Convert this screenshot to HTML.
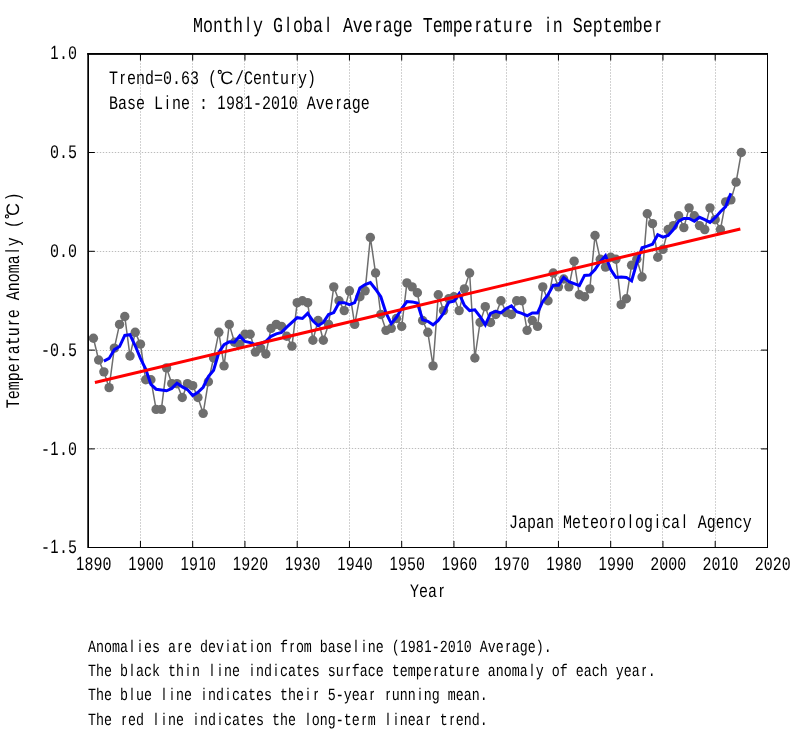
<!DOCTYPE html>
<html><head><meta charset="utf-8"><title>Monthly Global Average Temperature in September</title>
<style>html,body{margin:0;padding:0;background:#fff}svg{display:block;will-change:transform}text{font-family:"Liberation Mono",monospace;fill:#000;white-space:pre}</style></head><body>
<svg width="800" height="750" viewBox="0 0 800 750">
<rect width="800" height="750" fill="#fff"/>
<g stroke="#d2d2d2" stroke-width="1" stroke-dasharray="2 1" fill="none" shape-rendering="crispEdges">
<path d="M140.5 548V54"/>
<path d="M192.5 548V54"/>
<path d="M244.5 548V54"/>
<path d="M297.5 548V54"/>
<path d="M349.5 548V54"/>
<path d="M401.5 548V54"/>
<path d="M453.5 548V54"/>
<path d="M506.5 548V54"/>
<path d="M558.5 548V54"/>
<path d="M610.5 548V54"/>
<path d="M662.5 548V54"/>
<path d="M715.5 548V54"/>
</g>
<g stroke="#bcbcbc" stroke-width="1" stroke-dasharray="1.4 1.6" fill="none">
<path d="M87.8 152.5H767"/>
<path d="M87.8 251.5H767"/>
<path d="M87.8 350.5H767"/>
<path d="M87.8 448.5H767"/>
</g>
<g stroke="#000" stroke-width="1" fill="none">
<path d="M140.45 547.5V541M140.45 54V60.5"/>
<path d="M192.7 547.5V541M192.7 54V60.5"/>
<path d="M244.95 547.5V541M244.95 54V60.5"/>
<path d="M297.2 547.5V541M297.2 54V60.5"/>
<path d="M349.45 547.5V541M349.45 54V60.5"/>
<path d="M401.7 547.5V541M401.7 54V60.5"/>
<path d="M453.95 547.5V541M453.95 54V60.5"/>
<path d="M506.2 547.5V541M506.2 54V60.5"/>
<path d="M558.45 547.5V541M558.45 54V60.5"/>
<path d="M610.7 547.5V541M610.7 54V60.5"/>
<path d="M662.95 547.5V541M662.95 54V60.5"/>
<path d="M715.2 547.5V541M715.2 54V60.5"/>
<path d="M88.5 152.5H94.8M767.5 152.5H761"/>
<path d="M88.5 251.3H94.8M767.5 251.3H761"/>
<path d="M88.5 350.1H94.8M767.5 350.1H761"/>
<path d="M88.5 448.9H94.8M767.5 448.9H761"/>
</g>
<polyline points="93.42,338.24 98.65,359.98 103.88,371.84 109.10,387.64 114.33,348.12 119.55,324.41 124.78,316.51 130.00,356.03 135.22,332.32 140.45,344.17 145.68,379.74 150.90,379.74 156.12,409.38 161.35,409.38 166.57,367.88 171.80,383.69 177.02,383.69 182.25,397.52 187.47,383.69 192.70,385.67 197.93,397.52 203.15,413.33 208.38,381.72 213.60,358.00 218.82,332.32 224.05,365.91 229.27,324.41 234.50,342.20 239.72,344.17 244.95,334.29 250.18,334.29 255.40,352.08 260.62,348.12 265.85,354.05 271.07,328.36 276.30,324.41 281.52,326.39 286.75,336.27 291.97,346.15 297.20,302.68 302.43,300.70 307.65,302.68 312.88,340.22 318.10,320.46 323.32,340.22 328.55,324.41 333.77,286.87 339.00,300.70 344.22,310.58 349.45,290.82 354.67,324.41 359.90,296.75 365.12,290.82 370.35,237.47 375.57,273.04 380.80,314.53 386.02,330.34 391.25,328.36 396.47,318.48 401.70,326.39 406.92,282.92 412.15,286.87 417.37,292.80 422.60,320.46 427.82,332.32 433.05,365.91 438.27,294.77 443.50,310.58 448.72,298.72 453.95,296.75 459.17,310.58 464.40,288.84 469.62,273.04 474.85,358.00 480.07,322.44 485.30,306.63 490.52,322.44 495.75,314.53 500.97,300.70 506.20,312.56 511.42,314.53 516.65,300.70 521.88,300.70 527.10,330.34 532.32,320.46 537.55,326.39 542.77,286.87 548.00,300.70 553.23,273.04 558.45,286.87 563.67,278.96 568.90,286.87 574.12,261.18 579.35,294.77 584.57,296.75 589.80,288.84 595.02,235.49 600.25,259.20 605.48,267.11 610.70,257.23 615.92,259.20 621.15,304.65 626.38,298.72 631.60,265.13 636.83,259.20 642.05,276.99 647.27,213.76 652.50,223.64 657.73,257.23 662.95,249.32 668.17,229.56 673.40,225.61 678.62,215.73 683.85,227.59 689.08,207.83 694.30,215.73 699.52,225.61 704.75,229.56 709.98,207.83 715.20,219.68 720.42,229.56 725.65,201.90 730.88,199.92 736.10,182.14 741.33,152.50" fill="none" stroke="#6e6e6e" stroke-width="1.5" stroke-linejoin="round"/>
<g fill="#6e6e6e">
<circle cx="93.42" cy="338.24" r="4.7"/>
<circle cx="98.65" cy="359.98" r="4.7"/>
<circle cx="103.88" cy="371.84" r="4.7"/>
<circle cx="109.10" cy="387.64" r="4.7"/>
<circle cx="114.33" cy="348.12" r="4.7"/>
<circle cx="119.55" cy="324.41" r="4.7"/>
<circle cx="124.78" cy="316.51" r="4.7"/>
<circle cx="130.00" cy="356.03" r="4.7"/>
<circle cx="135.22" cy="332.32" r="4.7"/>
<circle cx="140.45" cy="344.17" r="4.7"/>
<circle cx="145.68" cy="379.74" r="4.7"/>
<circle cx="150.90" cy="379.74" r="4.7"/>
<circle cx="156.12" cy="409.38" r="4.7"/>
<circle cx="161.35" cy="409.38" r="4.7"/>
<circle cx="166.57" cy="367.88" r="4.7"/>
<circle cx="171.80" cy="383.69" r="4.7"/>
<circle cx="177.02" cy="383.69" r="4.7"/>
<circle cx="182.25" cy="397.52" r="4.7"/>
<circle cx="187.47" cy="383.69" r="4.7"/>
<circle cx="192.70" cy="385.67" r="4.7"/>
<circle cx="197.93" cy="397.52" r="4.7"/>
<circle cx="203.15" cy="413.33" r="4.7"/>
<circle cx="208.38" cy="381.72" r="4.7"/>
<circle cx="213.60" cy="358.00" r="4.7"/>
<circle cx="218.82" cy="332.32" r="4.7"/>
<circle cx="224.05" cy="365.91" r="4.7"/>
<circle cx="229.27" cy="324.41" r="4.7"/>
<circle cx="234.50" cy="342.20" r="4.7"/>
<circle cx="239.72" cy="344.17" r="4.7"/>
<circle cx="244.95" cy="334.29" r="4.7"/>
<circle cx="250.18" cy="334.29" r="4.7"/>
<circle cx="255.40" cy="352.08" r="4.7"/>
<circle cx="260.62" cy="348.12" r="4.7"/>
<circle cx="265.85" cy="354.05" r="4.7"/>
<circle cx="271.07" cy="328.36" r="4.7"/>
<circle cx="276.30" cy="324.41" r="4.7"/>
<circle cx="281.52" cy="326.39" r="4.7"/>
<circle cx="286.75" cy="336.27" r="4.7"/>
<circle cx="291.97" cy="346.15" r="4.7"/>
<circle cx="297.20" cy="302.68" r="4.7"/>
<circle cx="302.43" cy="300.70" r="4.7"/>
<circle cx="307.65" cy="302.68" r="4.7"/>
<circle cx="312.88" cy="340.22" r="4.7"/>
<circle cx="318.10" cy="320.46" r="4.7"/>
<circle cx="323.32" cy="340.22" r="4.7"/>
<circle cx="328.55" cy="324.41" r="4.7"/>
<circle cx="333.77" cy="286.87" r="4.7"/>
<circle cx="339.00" cy="300.70" r="4.7"/>
<circle cx="344.22" cy="310.58" r="4.7"/>
<circle cx="349.45" cy="290.82" r="4.7"/>
<circle cx="354.67" cy="324.41" r="4.7"/>
<circle cx="359.90" cy="296.75" r="4.7"/>
<circle cx="365.12" cy="290.82" r="4.7"/>
<circle cx="370.35" cy="237.47" r="4.7"/>
<circle cx="375.57" cy="273.04" r="4.7"/>
<circle cx="380.80" cy="314.53" r="4.7"/>
<circle cx="386.02" cy="330.34" r="4.7"/>
<circle cx="391.25" cy="328.36" r="4.7"/>
<circle cx="396.47" cy="318.48" r="4.7"/>
<circle cx="401.70" cy="326.39" r="4.7"/>
<circle cx="406.92" cy="282.92" r="4.7"/>
<circle cx="412.15" cy="286.87" r="4.7"/>
<circle cx="417.37" cy="292.80" r="4.7"/>
<circle cx="422.60" cy="320.46" r="4.7"/>
<circle cx="427.82" cy="332.32" r="4.7"/>
<circle cx="433.05" cy="365.91" r="4.7"/>
<circle cx="438.27" cy="294.77" r="4.7"/>
<circle cx="443.50" cy="310.58" r="4.7"/>
<circle cx="448.72" cy="298.72" r="4.7"/>
<circle cx="453.95" cy="296.75" r="4.7"/>
<circle cx="459.17" cy="310.58" r="4.7"/>
<circle cx="464.40" cy="288.84" r="4.7"/>
<circle cx="469.62" cy="273.04" r="4.7"/>
<circle cx="474.85" cy="358.00" r="4.7"/>
<circle cx="480.07" cy="322.44" r="4.7"/>
<circle cx="485.30" cy="306.63" r="4.7"/>
<circle cx="490.52" cy="322.44" r="4.7"/>
<circle cx="495.75" cy="314.53" r="4.7"/>
<circle cx="500.97" cy="300.70" r="4.7"/>
<circle cx="506.20" cy="312.56" r="4.7"/>
<circle cx="511.42" cy="314.53" r="4.7"/>
<circle cx="516.65" cy="300.70" r="4.7"/>
<circle cx="521.88" cy="300.70" r="4.7"/>
<circle cx="527.10" cy="330.34" r="4.7"/>
<circle cx="532.32" cy="320.46" r="4.7"/>
<circle cx="537.55" cy="326.39" r="4.7"/>
<circle cx="542.77" cy="286.87" r="4.7"/>
<circle cx="548.00" cy="300.70" r="4.7"/>
<circle cx="553.23" cy="273.04" r="4.7"/>
<circle cx="558.45" cy="286.87" r="4.7"/>
<circle cx="563.67" cy="278.96" r="4.7"/>
<circle cx="568.90" cy="286.87" r="4.7"/>
<circle cx="574.12" cy="261.18" r="4.7"/>
<circle cx="579.35" cy="294.77" r="4.7"/>
<circle cx="584.57" cy="296.75" r="4.7"/>
<circle cx="589.80" cy="288.84" r="4.7"/>
<circle cx="595.02" cy="235.49" r="4.7"/>
<circle cx="600.25" cy="259.20" r="4.7"/>
<circle cx="605.48" cy="267.11" r="4.7"/>
<circle cx="610.70" cy="257.23" r="4.7"/>
<circle cx="615.92" cy="259.20" r="4.7"/>
<circle cx="621.15" cy="304.65" r="4.7"/>
<circle cx="626.38" cy="298.72" r="4.7"/>
<circle cx="631.60" cy="265.13" r="4.7"/>
<circle cx="636.83" cy="259.20" r="4.7"/>
<circle cx="642.05" cy="276.99" r="4.7"/>
<circle cx="647.27" cy="213.76" r="4.7"/>
<circle cx="652.50" cy="223.64" r="4.7"/>
<circle cx="657.73" cy="257.23" r="4.7"/>
<circle cx="662.95" cy="249.32" r="4.7"/>
<circle cx="668.17" cy="229.56" r="4.7"/>
<circle cx="673.40" cy="225.61" r="4.7"/>
<circle cx="678.62" cy="215.73" r="4.7"/>
<circle cx="683.85" cy="227.59" r="4.7"/>
<circle cx="689.08" cy="207.83" r="4.7"/>
<circle cx="694.30" cy="215.73" r="4.7"/>
<circle cx="699.52" cy="225.61" r="4.7"/>
<circle cx="704.75" cy="229.56" r="4.7"/>
<circle cx="709.98" cy="207.83" r="4.7"/>
<circle cx="715.20" cy="219.68" r="4.7"/>
<circle cx="720.42" cy="229.56" r="4.7"/>
<circle cx="725.65" cy="201.90" r="4.7"/>
<circle cx="730.88" cy="199.92" r="4.7"/>
<circle cx="736.10" cy="182.14" r="4.7"/>
<circle cx="741.33" cy="152.50" r="4.7"/>
</g>
<polyline points="103.88,361.17 109.10,358.40 114.33,349.70 119.55,346.54 124.78,335.48 130.00,334.69 135.22,345.75 140.45,358.40 145.68,369.07 150.90,384.48 156.12,389.22 161.35,390.02 166.57,390.81 171.80,388.43 177.02,383.30 182.25,386.85 187.47,389.62 192.70,395.55 197.93,392.39 203.15,387.25 208.38,376.58 213.60,370.26 218.82,352.47 224.05,344.57 229.27,341.80 234.50,342.20 239.72,335.87 244.95,341.41 250.18,342.59 255.40,344.57 260.62,343.38 265.85,341.41 271.07,336.27 276.30,333.90 281.52,332.32 286.75,327.18 291.97,322.44 297.20,317.69 302.43,318.48 307.65,313.35 312.88,320.86 318.10,325.60 323.32,322.44 328.55,314.53 333.77,312.56 339.00,302.68 344.22,302.68 349.45,304.65 354.67,302.68 359.90,288.05 365.12,284.50 370.35,282.52 375.57,289.24 380.80,296.75 386.02,312.95 391.25,323.62 396.47,317.30 401.70,308.60 406.92,301.49 412.15,301.89 417.37,303.07 422.60,319.67 427.82,321.25 433.05,324.81 438.27,320.46 443.50,313.35 448.72,302.28 453.95,301.10 459.17,293.59 464.40,305.44 469.62,310.58 474.85,309.79 480.07,316.51 485.30,324.81 490.52,313.35 495.75,311.37 500.97,312.95 506.20,308.60 511.42,305.84 516.65,311.77 521.88,313.35 527.10,315.72 532.32,312.95 537.55,312.95 542.77,301.49 548.00,294.77 553.23,285.29 558.45,285.29 563.67,277.38 568.90,281.73 574.12,283.71 579.35,285.68 584.57,275.41 589.80,275.01 595.02,269.48 600.25,261.58 605.48,255.65 610.70,269.48 615.92,277.38 621.15,276.99 626.38,277.38 631.60,280.94 636.83,262.76 642.05,247.74 647.27,246.16 652.50,244.19 657.73,234.70 662.95,237.07 668.17,235.49 673.40,229.56 678.62,221.26 683.85,218.50 689.08,218.50 694.30,221.26 699.52,217.31 704.75,219.68 709.98,222.45 715.20,217.71 720.42,211.78 725.65,206.64 730.88,193.21" fill="none" stroke="#0000ff" stroke-width="3" stroke-linejoin="miter" stroke-linecap="butt"/>
<line x1="94.92" y1="382.51" x2="740.33" y2="228.97" stroke="#ff0000" stroke-width="3"/>
<g fill="#000">
<rect x="87.3" y="53" width="680.7" height="1.9"/>
<rect x="87.3" y="53" width="1.7" height="495"/>
<rect x="767" y="53" width="1" height="495" shape-rendering="crispEdges"/>
<rect x="88" y="547" width="680" height="1" shape-rendering="crispEdges"/>
</g>
<g transform="translate(193,31.9) skewX(0.1)">
<g transform="translate(0.00,0) scale(0.7843,1)" font-size="21.250">
<text xml:space="preserve">Month y G oba  Ave age Tempe atu e  n Septembe </text>
<text text-anchor="middle" style="font-family:'Liberation Sans',sans-serif" x="70.12 121.12 172.12 235.88 363.38 414.38 452.62 592.88">lllrrrir</text>
</g>
</g>
<g transform="translate(109,83.8) skewX(0.1)">
<g transform="translate(0.00,0) scale(0.7843,1)" font-size="19.125">
<text xml:space="preserve">T end=0.63 (</text>
<text text-anchor="middle" style="font-family:'Liberation Sans',sans-serif" x="17.21">r</text>
</g>
<circle cx="110.80" cy="-11.85" r="1.55" fill="none" stroke="#000" stroke-width="1.10"/>
<text x="111.30" y="0" style="font-family:'Liberation Sans',sans-serif" font-size="18.08">C</text>
<g transform="translate(126.00,0) scale(0.7843,1)" font-size="19.125">
<text xml:space="preserve">/Centu y)</text>
<text text-anchor="middle" style="font-family:'Liberation Sans',sans-serif" x="74.59">r</text>
</g>
</g>
<g transform="translate(109,108.5) skewX(0.1)">
<g transform="translate(0.00,0) scale(0.7843,1)" font-size="19.125">
<text xml:space="preserve">Base L ne :  98 -20 0 Ave age</text>
<text text-anchor="middle" style="font-family:'Liberation Sans',sans-serif" x="74.59 143.44 177.86 223.76 292.61">i111r</text>
</g>
</g>
<g transform="translate(509,527.5) skewX(0.1)">
<g transform="translate(0.00,0) scale(0.7843,1)" font-size="19.125">
<text xml:space="preserve">Japan Meteo o og ca  Agency</text>
<text text-anchor="middle" style="font-family:'Liberation Sans',sans-serif" x="131.96 154.91 189.34 223.76">rlil</text>
</g>
</g>
<g transform="translate(77,59.4) skewX(0.1)">
<g transform="translate(-27.00,0) scale(0.7843,1)" font-size="19.125">
<text xml:space="preserve"> .0</text>
<text text-anchor="middle" style="font-family:'Liberation Sans',sans-serif" x="5.74">1</text>
</g>
</g>
<g transform="translate(77,158.2) skewX(0.1)">
<g transform="translate(-27.00,0) scale(0.7843,1)" font-size="19.125">
<text xml:space="preserve">0.5</text>
</g>
</g>
<g transform="translate(77,257.0) skewX(0.1)">
<g transform="translate(-27.00,0) scale(0.7843,1)" font-size="19.125">
<text xml:space="preserve">0.0</text>
</g>
</g>
<g transform="translate(77,355.8) skewX(0.1)">
<g transform="translate(-36.00,0) scale(0.7843,1)" font-size="19.125">
<text xml:space="preserve">-0.5</text>
</g>
</g>
<g transform="translate(77,454.6) skewX(0.1)">
<g transform="translate(-36.00,0) scale(0.7843,1)" font-size="19.125">
<text xml:space="preserve">- .0</text>
<text text-anchor="middle" style="font-family:'Liberation Sans',sans-serif" x="17.21">1</text>
</g>
</g>
<g transform="translate(77,553.4) skewX(0.1)">
<g transform="translate(-36.00,0) scale(0.7843,1)" font-size="19.125">
<text xml:space="preserve">- .5</text>
<text text-anchor="middle" style="font-family:'Liberation Sans',sans-serif" x="17.21">1</text>
</g>
</g>
<g transform="translate(75.6,570.1) skewX(0.1)">
<g transform="translate(0.00,0) scale(0.7843,1)" font-size="19.125">
<text xml:space="preserve"> 890</text>
<text text-anchor="middle" style="font-family:'Liberation Sans',sans-serif" x="5.74">1</text>
</g>
</g>
<g transform="translate(127.85,570.1) skewX(0.1)">
<g transform="translate(0.00,0) scale(0.7843,1)" font-size="19.125">
<text xml:space="preserve"> 900</text>
<text text-anchor="middle" style="font-family:'Liberation Sans',sans-serif" x="5.74">1</text>
</g>
</g>
<g transform="translate(180.1,570.1) skewX(0.1)">
<g transform="translate(0.00,0) scale(0.7843,1)" font-size="19.125">
<text xml:space="preserve"> 9 0</text>
<text text-anchor="middle" style="font-family:'Liberation Sans',sans-serif" x="5.74 28.69">11</text>
</g>
</g>
<g transform="translate(232.35,570.1) skewX(0.1)">
<g transform="translate(0.00,0) scale(0.7843,1)" font-size="19.125">
<text xml:space="preserve"> 920</text>
<text text-anchor="middle" style="font-family:'Liberation Sans',sans-serif" x="5.74">1</text>
</g>
</g>
<g transform="translate(284.6,570.1) skewX(0.1)">
<g transform="translate(0.00,0) scale(0.7843,1)" font-size="19.125">
<text xml:space="preserve"> 930</text>
<text text-anchor="middle" style="font-family:'Liberation Sans',sans-serif" x="5.74">1</text>
</g>
</g>
<g transform="translate(336.85,570.1) skewX(0.1)">
<g transform="translate(0.00,0) scale(0.7843,1)" font-size="19.125">
<text xml:space="preserve"> 940</text>
<text text-anchor="middle" style="font-family:'Liberation Sans',sans-serif" x="5.74">1</text>
</g>
</g>
<g transform="translate(389.1,570.1) skewX(0.1)">
<g transform="translate(0.00,0) scale(0.7843,1)" font-size="19.125">
<text xml:space="preserve"> 950</text>
<text text-anchor="middle" style="font-family:'Liberation Sans',sans-serif" x="5.74">1</text>
</g>
</g>
<g transform="translate(441.35,570.1) skewX(0.1)">
<g transform="translate(0.00,0) scale(0.7843,1)" font-size="19.125">
<text xml:space="preserve"> 960</text>
<text text-anchor="middle" style="font-family:'Liberation Sans',sans-serif" x="5.74">1</text>
</g>
</g>
<g transform="translate(493.6,570.1) skewX(0.1)">
<g transform="translate(0.00,0) scale(0.7843,1)" font-size="19.125">
<text xml:space="preserve"> 970</text>
<text text-anchor="middle" style="font-family:'Liberation Sans',sans-serif" x="5.74">1</text>
</g>
</g>
<g transform="translate(545.85,570.1) skewX(0.1)">
<g transform="translate(0.00,0) scale(0.7843,1)" font-size="19.125">
<text xml:space="preserve"> 980</text>
<text text-anchor="middle" style="font-family:'Liberation Sans',sans-serif" x="5.74">1</text>
</g>
</g>
<g transform="translate(598.1,570.1) skewX(0.1)">
<g transform="translate(0.00,0) scale(0.7843,1)" font-size="19.125">
<text xml:space="preserve"> 990</text>
<text text-anchor="middle" style="font-family:'Liberation Sans',sans-serif" x="5.74">1</text>
</g>
</g>
<g transform="translate(650.35,570.1) skewX(0.1)">
<g transform="translate(0.00,0) scale(0.7843,1)" font-size="19.125">
<text xml:space="preserve">2000</text>
</g>
</g>
<g transform="translate(702.6,570.1) skewX(0.1)">
<g transform="translate(0.00,0) scale(0.7843,1)" font-size="19.125">
<text xml:space="preserve">20 0</text>
<text text-anchor="middle" style="font-family:'Liberation Sans',sans-serif" x="28.69">1</text>
</g>
</g>
<g transform="translate(754.85,570.1) skewX(0.1)">
<g transform="translate(0.00,0) scale(0.7843,1)" font-size="19.125">
<text xml:space="preserve">2020</text>
</g>
</g>
<g transform="translate(410,597.1) skewX(0.1)">
<g transform="translate(0.00,0) scale(0.7843,1)" font-size="19.125">
<text xml:space="preserve">Yea </text>
<text text-anchor="middle" style="font-family:'Liberation Sans',sans-serif" x="40.16">r</text>
</g>
</g>
<g transform="translate(18.8,408.2) rotate(-90) skewX(0.1)">
<g transform="translate(0.00,0) scale(0.7843,1)" font-size="19.125">
<text xml:space="preserve">Tempe atu e Anoma y (</text>
<text text-anchor="middle" style="font-family:'Liberation Sans',sans-serif" x="63.11 109.01 200.81">rrl</text>
</g>
<circle cx="191.80" cy="-11.85" r="1.55" fill="none" stroke="#000" stroke-width="1.10"/>
<text x="192.30" y="0" style="font-family:'Liberation Sans',sans-serif" font-size="18.08">C</text>
<g transform="translate(207.00,0) scale(0.7843,1)" font-size="19.125">
<text xml:space="preserve">)</text>
</g>
</g>
<g transform="translate(88,651.6) skewX(0.1)">
<g transform="translate(0.00,0) scale(0.7843,1)" font-size="17.000">
<text xml:space="preserve">Anoma  es a e dev at on f om base  ne ( 98 -20 0 Ave age).</text>
<text text-anchor="middle" style="font-family:'Liberation Sans',sans-serif" x="56.10 66.30 117.30 178.50 209.10 260.10 341.70 351.90 402.90 433.50 474.30 535.50">liriirli111r</text>
</g>
</g>
<g transform="translate(88,675.8) skewX(0.1)">
<g transform="translate(0.00,0) scale(0.7843,1)" font-size="17.000">
<text xml:space="preserve">The b ack th n   ne  nd cates su face tempe atu e anoma y of each yea .</text>
<text text-anchor="middle" style="font-family:'Liberation Sans',sans-serif" x="56.10 127.50 158.10 168.30 209.10 239.70 331.50 443.70 484.50 566.10 708.90">liliiirrrlr</text>
</g>
</g>
<g transform="translate(88,700.4) skewX(0.1)">
<g transform="translate(0.00,0) scale(0.7843,1)" font-size="17.000">
<text xml:space="preserve">The b ue   ne  nd cates the   5-yea   unn ng mean.</text>
<text text-anchor="middle" style="font-family:'Liberation Sans',sans-serif" x="56.10 96.90 107.10 147.90 178.50 280.50 290.70 362.10 382.50 423.30">lliiiirrri</text>
</g>
</g>
<g transform="translate(88,725) skewX(0.1)">
<g transform="translate(0.00,0) scale(0.7843,1)" font-size="17.000">
<text xml:space="preserve">The  ed   ne  nd cates the  ong-te m   nea  t end.</text>
<text text-anchor="middle" style="font-family:'Liberation Sans',sans-serif" x="45.90 86.70 96.90 137.70 168.30 280.50 351.90 382.50 392.70 433.50 464.10">rliiilrlirr</text>
</g>
</g>
</svg></body></html>
